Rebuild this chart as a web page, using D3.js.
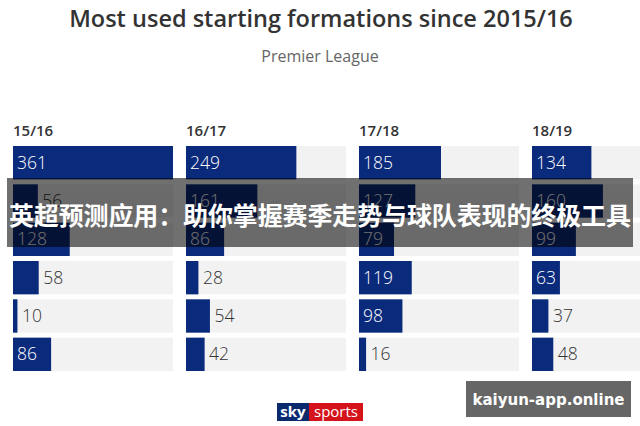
<!DOCTYPE html>
<html>
<head>
<meta charset="utf-8">
<script src="https://cdn.jsdelivr.net/npm/d3@7"></script>
<style>
  body { margin: 0; background: #fff; }
  svg { display: block; }
</style>
</head>
<body>
<div id="chart"></div>
<script>
// seasons and how often each formation was used (rows top to bottom)
var seasons = ["15/16", "16/17", "17/18", "18/19"];
var s1516 = [361, 56, 128, 58, 10, 86];
var s1617 = [249, 161, 86, 28, 54, 42];
var s1718 = [185, 127, 79, 119, 98, 16];
var s1819 = [134, 160, 99, 63, 37, 48];
var seasonValues = [s1516, s1617, s1718, s1819];
var rows = d3.range(6);

var w_svg = 640, h_svg = 426;
var navy = "#0a2a7c";
var track = "#f2f2f2";

var svg = d3.select("#chart")
  .append("svg")
  .attr("width", w_svg)
  .attr("height", h_svg);

svg.append("text")
  .attr("x", 321).attr("y", 27)
  .attr("text-anchor", "middle")
  .style("font-family", "'Open Sans', sans-serif")
  .style("font-size", "23.5px")
  .style("font-weight", 600)
  .style("fill", "#333")
  .text("Most used starting formations since 2015/16");

svg.append("text")
  .attr("x", 320).attr("y", 62)
  .attr("text-anchor", "middle")
  .style("font-family", "'Open Sans', sans-serif")
  .style("font-size", "16px")
  .style("fill", "#666")
  .text("Premier League");

var panel = d3.scaleBand().domain(seasons).range([13, 13 + 173 * 4]).paddingInner(0);
var y = d3.scaleBand().domain(rows).range([146, 146 + 37.5 * 6]).paddingInner(0.13).paddingOuter(0);
var x = d3.scaleLinear().domain([0, 361]).range([0, 160]);

var panels = svg.selectAll("g.panel")
  .data(seasons)
  .enter().append("g")
  .attr("class", "panel")
  .attr("transform", function(d) { return "translate(" + panel(d) + ",0)"; });

panels.append("text")
  .attr("x", 0).attr("y", 136)
  .style("font-family", "'Open Sans', sans-serif")
  .style("font-size", "15px")
  .style("font-weight", 600)
  .style("fill", "#333")
  .text(function(d) { return d; });

panels.each(function(season, si) {
  var g = d3.select(this);
  var vals = seasonValues[si];

  g.selectAll("rect.track")
    .data(vals).enter().append("rect")
    .attr("class", "track")
    .attr("x", 0)
    .attr("y", function(d, i) { return y(i); })
    .attr("width", x(361))
    .attr("height", y.bandwidth())
    .style("fill", track);

  g.selectAll("rect.bar")
    .data(vals).enter().append("rect")
    .attr("class", "bar")
    .attr("x", 0)
    .attr("y", function(d, i) { return y(i); })
    .attr("width", function(d) { return x(d); })
    .attr("height", y.bandwidth())
    .style("fill", navy);

  g.selectAll("text.val")
    .data(vals).enter().append("text")
    .attr("class", "val")
    .attr("x", function(d) { return x(d) >= 27 ? 4 : x(d) + 4.5; })
    .attr("y", function(d, i) { return y(i) + y.bandwidth() / 2 + 6; })
    .style("font-family", "'Open Sans', sans-serif")
    .style("font-size", "17.5px")
    .style("font-weight", 300)
    .style("fill", function(d) { return x(d) >= 27 ? "#fff" : "#333"; })
    .text(function(d) { return d; });
});

// sky sports logo
var logo = svg.append("g").attr("transform", "translate(277,403)");
logo.append("rect").attr("width", 32).attr("height", 18).style("fill", "#0b2a6e");
logo.append("rect").attr("x", 32).attr("width", 54).attr("height", 18).style("fill", "#d4131b");
logo.append("text").attr("x", 16).attr("y", 14).attr("text-anchor", "middle")
  .style("font-family", "'Open Sans', sans-serif").style("font-size", "15px").style("font-weight", 700)
  .style("fill", "#fff").text("sky");
logo.append("text").attr("x", 59).attr("y", 14).attr("text-anchor", "middle")
  .style("font-family", "'Open Sans', sans-serif").style("font-size", "15px")
  .style("fill", "#fff").text("sports");

// overlay banner
svg.append("rect")
  .attr("x", 7).attr("y", 178).attr("width", 626).attr("height", 69)
  .style("fill", "#000").style("fill-opacity", 0.56);
svg.append("text")
  .attr("x", 320).attr("y", 225)
  .attr("text-anchor", "middle")
  .attr("textLength", 622)
  .style("font-family", "'Noto Sans CJK SC', sans-serif")
  .style("font-size", "25px")
  .style("font-weight", 700)
  .style("fill", "#fff")
  .text("英超预测应用：助你掌握赛季走势与球队表现的终极工具");

// watermark
svg.append("rect")
  .attr("x", 466).attr("y", 381).attr("width", 165).attr("height", 36)
  .style("fill", "#666");
svg.append("text")
  .attr("x", 548.5).attr("y", 405)
  .attr("text-anchor", "middle")
  .style("font-family", "'DejaVu Sans', sans-serif")
  .style("font-size", "15px")
  .style("font-weight", 700)
  .style("fill", "#fff")
  .text("kaiyun-app.online");
</script>
</body>
</html>
